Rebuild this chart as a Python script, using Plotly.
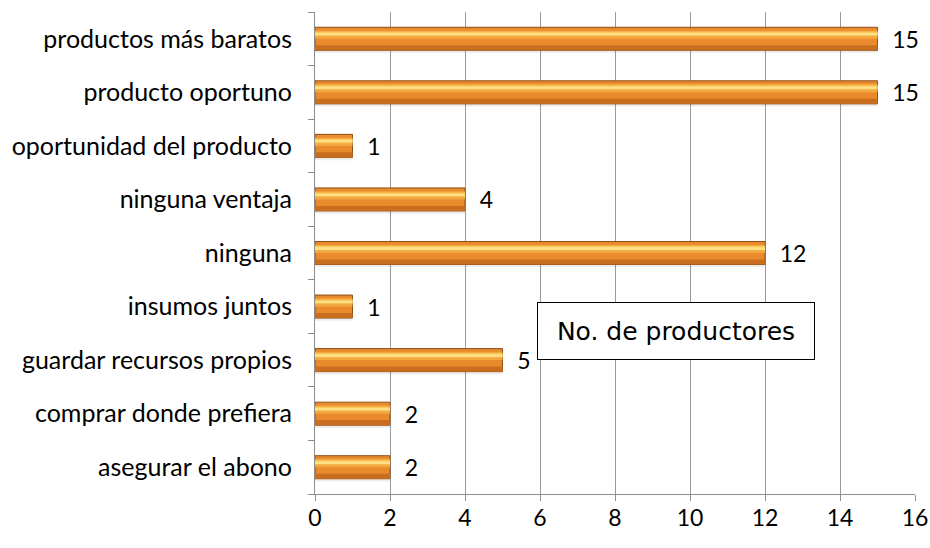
import plotly.graph_objects as go

categories = ["asegurar el abono", "comprar donde prefiera", "guardar recursos propios",
              "insumos juntos", "ninguna", "ninguna ventaja", "oportunidad del producto",
              "producto oportuno", "productos más baratos"]
values = [2, 2, 5, 1, 12, 4, 1, 15, 15]
x_ticks = [0, 2, 4, 6, 8, 10, 12, 14, 16]
series_name = "No. de productores"

FONT = "Lato, Liberation Sans, sans-serif"
BW = 0.43
fig = go.Figure()
# soft shadow under the bar
fig.add_trace(go.Bar(
    y=categories, x=values, orientation="h", width=BW*0.16, offset=-BW/2 - BW*0.12,
    marker=dict(color="rgba(0,0,0,0.07)", line=dict(width=0)),
    showlegend=False, hoverinfo="skip"))
# main bar body
fig.add_trace(go.Bar(
    y=categories, x=values, orientation="h", width=BW, offset=-BW/2,
    marker=dict(color="#E98A2D", line=dict(color="#8E4E17", width=1)),
    text=["  " + str(v) for v in values], textposition="outside",
    constraintext="none",
    textfont=dict(family=FONT, size=23, color="#000"),
    cliponaxis=False, showlegend=False, hoverinfo="skip"))
# highlight stripes
fig.add_trace(go.Bar(
    y=categories, x=values, orientation="h", width=BW*0.36, offset=BW*0.0,
    marker=dict(color="#F3A73F", line=dict(width=0)), showlegend=False, hoverinfo="skip"))
fig.add_trace(go.Bar(
    y=categories, x=values, orientation="h", width=BW*0.18, offset=BW*0.12,
    marker=dict(color="#FBC85C", line=dict(width=0)), showlegend=False, hoverinfo="skip"))
fig.add_trace(go.Bar(
    y=categories, x=values, orientation="h", width=BW*0.08, offset=BW*0.17,
    marker=dict(color="#FEE084", line=dict(width=0)), showlegend=False, hoverinfo="skip"))
# bottom shade
fig.add_trace(go.Bar(
    y=categories, x=values, orientation="h", width=BW*0.22, offset=-BW/2,
    marker=dict(color="#C96E1F", line=dict(width=0)), showlegend=False, hoverinfo="skip"))

fig.update_layout(
    width=930, height=548, barmode="overlay",
    margin=dict(l=315, r=15, t=12, b=54, autoexpand=False),
    paper_bgcolor="white", plot_bgcolor="white",
    font=dict(family=FONT, size=25, color="#000"),
    xaxis=dict(range=[0, 16], tickvals=x_ticks, ticktext=[str(t) for t in x_ticks],
               tickfont=dict(size=23),
               showgrid=True, gridcolor="#9a9a9a", gridwidth=1,
               showline=True, linecolor="#8c8c8c", linewidth=1,
               ticks="outside", ticklen=6, tickcolor="#8c8c8c",
               ticklabelstandoff=-3, zeroline=False, fixedrange=True, automargin=False),
    yaxis=dict(categoryorder="array", categoryarray=categories, type="category",
               showline=True, linecolor="#8c8c8c", linewidth=1,
               ticks="outside", ticklen=6, tickcolor="#8c8c8c", tickson="boundaries",
               ticklabelstandoff=17, showgrid=False, fixedrange=True, automargin=False),
    annotations=[dict(
        text=series_name, xref="paper", yref="paper", x=0.37, y=0.278,
        xanchor="left", yanchor="bottom", showarrow=False,
        font=dict(family="DejaVu Sans", size=25, color="#000"),
        bgcolor="white", bordercolor="#000", borderwidth=1, borderpad=1,
        width=274, height=54, align="center")],
)

fig.write_html("out.html", config={"displayModeBar": False},
               post_script="document.body.style.margin='0';document.body.style.overflow='hidden';")
